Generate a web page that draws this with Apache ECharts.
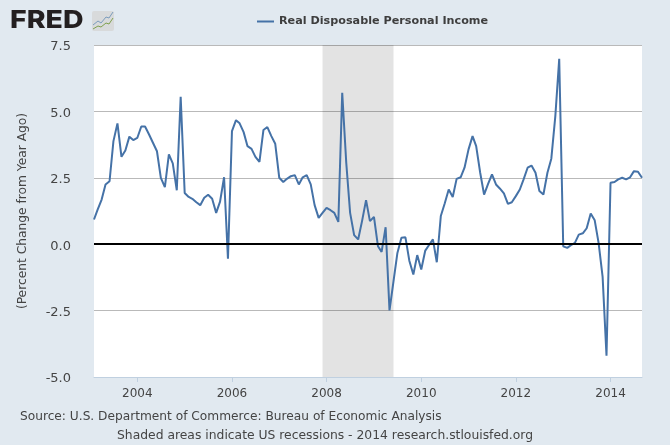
<!DOCTYPE html>
<html><head><meta charset="utf-8">
<style>html,body{margin:0;padding:0;background:#e1e9f0}#c{width:670px;height:445px}</style>
<script src="https://cdn.jsdelivr.net/npm/echarts@6/dist/echarts.min.js"></script>
</head><body><div id="c"></div>
<script>
const seriesName = 'Real Disposable Personal Income';
const yLabel = '(Percent Change from Year Ago)';
const sourceLine = 'Source: U.S. Department of Commerce: Bureau of Economic Analysis';
const shadeLine = 'Shaded areas indicate US recessions - 2014 research.stlouisfed.org';
const firstMonth = [2003, 1];   // Feb 2003 (0-based month)
const tickYears = [2004, 2006, 2008, 2010, 2012, 2014];
const recessionStart = [2007, 11];
const recessionEnd = [2009, 5];
const values = [
 0.93,1.3,1.68,2.25,2.37,3.88,4.55,3.29,3.53,4.05,3.92,
 4.0,4.43,4.43,4.13,3.82,3.5,2.5,2.15,3.38,3.04,2.03,5.55,
 1.93,1.78,1.71,1.58,1.47,1.75,1.86,1.71,1.18,1.6,2.52,-0.55,
 4.26,4.67,4.55,4.22,3.69,3.59,3.29,3.1,4.3,4.41,4.07,3.78,
 2.5,2.34,2.46,2.56,2.6,2.25,2.52,2.6,2.25,1.47,0.99,
 1.18,1.37,1.28,1.18,0.84,5.7,3.07,1.18,0.34,0.18,0.87,1.66,0.87,
 1.03,-0.08,-0.29,0.64,-2.49,-1.39,-0.33,0.24,0.26,-0.62,-1.14,-0.41,
 -0.95,-0.24,-0.04,0.18,-0.68,1.06,1.53,2.06,1.78,2.46,2.52,
 2.88,3.57,4.07,3.69,2.69,1.87,2.27,2.63,2.25,2.09,1.91,1.52,
 1.58,1.81,2.06,2.44,2.88,2.96,2.69,2.0,1.87,2.69,3.22,4.82,6.98,
 -0.08,-0.14,-0.04,0.05,0.36,0.41,0.6,1.16,0.9,0.05,-1.23,-4.2,
 2.31,2.34,2.44,2.5,2.44,2.52,2.75,2.73,2.5
];
const points = values.map((v, i) => [Date.UTC(firstMonth[0], firstMonth[1] + i, 1), v]);
const ticks = tickYears.map(y => Date.UTC(y, 0, 1));
const txt = '#444444';
const font = '"DejaVu Sans"';

const chart = echarts.init(document.getElementById('c'), null, {renderer: 'canvas'});
chart.setOption({
  animation: false,
  backgroundColor: '#e1e9f0',
  grid: {show: true, backgroundColor: '#ffffff', borderWidth: 0, left: 94, right: 28, top: 45, height: 332, containLabel: false},
  legend: {
    show: true, top: 11, left: 252, itemWidth: 17, itemHeight: 2, itemGap: 5,
    icon: 'rect',
    textStyle: {fontFamily: font, fontSize: 11.2, fontWeight: 'bold', color: '#3e3e3e'},
    data: [seriesName]
  },
  xAxis: {
    type: 'value',
    min: points[0][0],
    max: points[points.length - 1][0],
    axisLine: {show: true, onZero: false, lineStyle: {color: '#c0d0e0', width: 1}},
    axisTick: {show: true, length: 5, customValues: ticks, lineStyle: {color: '#c0d0e0'}},
    splitLine: {show: false},
    axisLabel: {
      show: true, customValues: ticks, margin: 11, color: txt, fontFamily: font, fontSize: 12,
      hideOverlap: false,
      formatter: v => String(new Date(v).getUTCFullYear())
    }
  },
  yAxis: {
    type: 'value', min: -5, max: 7.5, interval: 2.5,
    name: yLabel, nameLocation: 'middle', nameGap: 65, nameRotate: 90,
    nameTextStyle: {color: txt, fontFamily: font, fontSize: 12.25},
    axisLine: {show: false}, axisTick: {show: false},
    splitLine: {show: true, lineStyle: {color: '#b9b9b9', width: 1}},
    axisLabel: {margin: 23, verticalAlign: 'top', lineHeight: 4, color: txt, fontFamily: font, fontSize: 13, formatter: v => v.toFixed(1)}
  },
  series: [{
    name: seriesName, type: 'line', data: points, showSymbol: false, symbol: 'none',
    smooth: false, clip: true, z: 5,
    lineStyle: {color: '#4572a7', width: 2, join: 'bevel'},
    itemStyle: {color: '#4572a7'},
    markArea: {
      silent: true, z: 1,
      itemStyle: {color: 'rgba(0,0,0,0.11)'},
      data: [[{xAxis: Date.UTC(recessionStart[0], recessionStart[1], 1)}, {xAxis: Date.UTC(recessionEnd[0], recessionEnd[1], 1)}]]
    },
    markLine: {
      silent: true, symbol: 'none', z: 6, animation: false,
      label: {show: false},
      lineStyle: {color: '#000', width: 2, type: 'solid'},
      data: [{yAxis: 0}]
    }
  }],
  graphic: [
    {type: 'text', x: 10, y: 8, scaleX: 1.14, style: {text: 'FRED', fontFamily: 'Inter', fontWeight: 800, fontSize: 25, fill: '#231f20'}},
    {type: 'rect', shape: {x: 92, y: 11, width: 22, height: 20, r: 2}, style: {fill: '#d8dadb'}, silent: true},
    {type: 'polyline', shape: {points: [[93,25],[98,21],[101,23],[106,17],[109,18],[113,12]]}, style: {stroke: '#7b9cbd', lineWidth: 1, fill: null}, silent: true},
    {type: 'polyline', shape: {points: [[93,29],[98,26],[101,27],[106,23],[109,24],[113,18]]}, style: {stroke: '#7fa04f', lineWidth: 1, fill: null}, silent: true},
    {type: 'text', left: 20, top: 411, style: {text: sourceLine, fontFamily: font, fontSize: 12.2, fill: txt}},
    {type: 'text', left: 117, top: 430, style: {text: shadeLine, fontFamily: font, fontSize: 12.35, fill: txt}}
  ]
});
</script></body></html>
